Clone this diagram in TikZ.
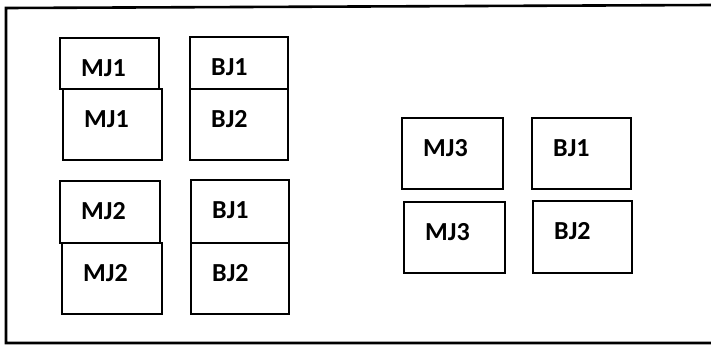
\documentclass[tikz,border=0pt]{standalone}
\usepackage{fontspec}
\setmainfont{Carlito}
\usetikzlibrary{calc}
\begin{document}
\begin{tikzpicture}[x=1pt,y=-1pt,
  boxstyle/.style={draw=black, line width=2.4pt, rectangle, inner sep=0pt},
  lbl/.style={anchor=base west, inner sep=0pt, font=\fontsize{26}{30}\selectfont\bfseries}]
\useasboundingbox (0,0) rectangle (711,346);
% frame
\coordinate (ftr) at (711,5);
\coordinate (ftl) at (6,8);
\coordinate (fbl) at (6,343);
\coordinate (fbr) at (711,343);
\draw[line width=2.6pt] (ftr) -- (ftl) -- (fbl) -- (fbr);
% boxes: name, left, top, right, bottom, text
\foreach \n/\l/\t/\r/\b/\txt in {
  a/59/37/158/88/MJ1, b/62/88/161/159/MJ1,
  c/189/36/287/88/BJ1, d/189/88/287/159/BJ2,
  e/59/180/159/242/MJ2, f/61/242/161/313/MJ2,
  g/190/179/288/242/BJ1, h/190/242/288/313/BJ2,
  i/401/117/502/188/MJ3, j/531/117/630/188/BJ1,
  k/403/201/504/272/MJ3, l/532/200/631/272/BJ2}{
  \node[boxstyle, minimum width={\r-\l}, minimum height={\b-\t}, anchor=north west] (\n) at (\l,\t) {};
  \node[lbl] (\n t) at ($(\n.north west)+(22,39)$) {\txt};
}
\end{tikzpicture}
\end{document}
